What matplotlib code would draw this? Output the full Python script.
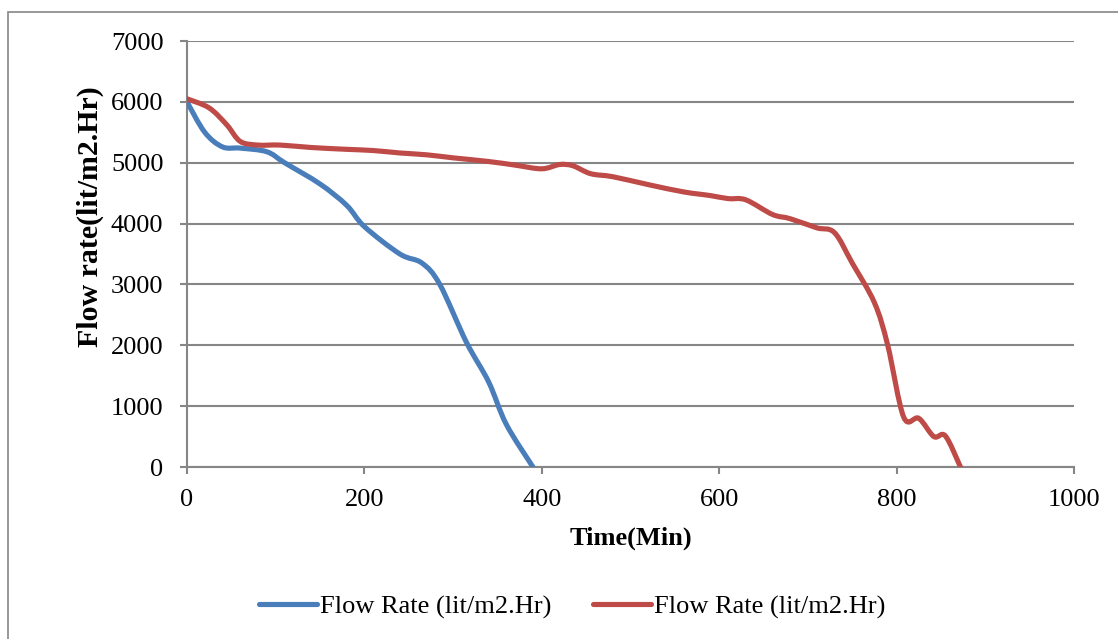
import matplotlib
matplotlib.use("Agg")
import matplotlib.pyplot as plt
from matplotlib.path import Path
from matplotlib.patches import PathPatch, Rectangle
from matplotlib.lines import Line2D

# datos
tiempo_1 = [0, 20, 40, 60, 90, 110, 150, 180, 200, 240, 265, 285, 315, 340, 360, 390]
flujo_1 = [6000, 5500, 5260, 5240, 5180, 5000, 4650, 4300, 3950, 3500, 3350, 3000, 2050, 1400, 700, 0]

tiempo_2 = [0, 25, 45, 60, 80, 105, 140, 180, 210, 240, 270, 300, 340, 370, 400, 420, 435,
            455, 480, 520, 560, 590, 610, 630, 660, 680, 710, 730, 750, 775, 790, 808, 825,
            842, 855, 872]
flujo_2 = [6050, 5900, 5620, 5350, 5290, 5290, 5250, 5220, 5200, 5160, 5130, 5080, 5020, 4960,
           4900, 4970, 4950, 4820, 4770, 4640, 4520, 4460, 4410, 4390, 4150, 4080, 3930, 3850,
           3350, 2700, 2000, 820, 800, 500, 510, 0]

etiqueta = "Flow Rate (lit/m2.Hr)"
azul = "#4A7EBB"
rojo = "#BE4B48"
gris = "#868686"

plt.rcParams['font.family'] = ['Liberation Serif', 'DejaVu Serif']


# curva suavizada estilo excel (bezier)
def curva(xs, ys):
    pts = list(zip(xs, ys))
    n = len(pts)
    verts = [pts[0]]
    codes = [Path.MOVETO]
    for i in range(n - 1):
        p0 = pts[i - 1] if i > 0 else pts[i]
        p1 = pts[i]
        p2 = pts[i + 1]
        p3 = pts[i + 2] if i + 2 < n else pts[i + 1]
        c1 = (p1[0] + (p2[0] - p0[0]) / 6.0, p1[1] + (p2[1] - p0[1]) / 6.0)
        c2 = (p2[0] - (p3[0] - p1[0]) / 6.0, p2[1] - (p3[1] - p1[1]) / 6.0)
        verts += [c1, c2, p2]
        codes += [Path.CURVE4, Path.CURVE4, Path.CURVE4]
    return Path(verts, codes)


fig = plt.figure(figsize=(11.18, 6.39), dpi=100)
ax = fig.add_axes([187 / 1118, 1 - 467 / 639, (1074 - 187) / 1118, (467 - 41) / 639])

# marco del grafico
fig.patches.append(Rectangle((8 / 1118, -0.1), 1.2, 1 - 12 / 639 + 0.1, transform=fig.transFigure,
                             fill=False, edgecolor=gris, linewidth=1.2))

ax.add_patch(PathPatch(curva(tiempo_1, flujo_1), fill=False, edgecolor=azul, linewidth=3.7,
                       capstyle='round', joinstyle='round', zorder=3))
ax.add_patch(PathPatch(curva(tiempo_2, flujo_2), fill=False, edgecolor=rojo, linewidth=3.7,
                       capstyle='round', joinstyle='round', zorder=3))

ax.set_xlim(0, 1000)
ax.set_ylim(0, 7000)
ax.set_xticks(range(0, 1001, 200))
ax.set_yticks(range(0, 7001, 1000))
ax.grid(True, axis='y', color=gris, linewidth=1.5)
ax.set_axisbelow(True)
for lado in ['top', 'right']:
    ax.spines[lado].set_visible(False)
for lado in ['left', 'bottom']:
    ax.spines[lado].set_color(gris)
    ax.spines[lado].set_linewidth(1.5)
ax.tick_params(axis='both', direction='out', length=5, width=1.5, color=gris, labelsize=19)
ax.tick_params(axis='x', pad=11)
ax.tick_params(axis='y', pad=12)

ax.set_xlabel("Time(Min)", fontsize=19, fontweight='bold', labelpad=11)
ax.set_ylabel("Flow rate(lit/m2.Hr)", fontsize=21.5, fontweight='bold')
ax.yaxis.set_label_coords((104 - 187) / (1074 - 187), (467 - 217) / (467 - 41))

manijas = [Line2D([], [], color=azul, linewidth=3.7, solid_capstyle='round'),
           Line2D([], [], color=rojo, linewidth=3.7, solid_capstyle='round')]
fig.legend(manijas, [etiqueta, etiqueta], loc='center', bbox_to_anchor=(572 / 1118, 1 - 607 / 639),
           ncol=2, frameon=False, fontsize=19, handlelength=2.2, handletextpad=0.1,
           columnspacing=1.6)

plt.savefig("out.png", dpi=100)
